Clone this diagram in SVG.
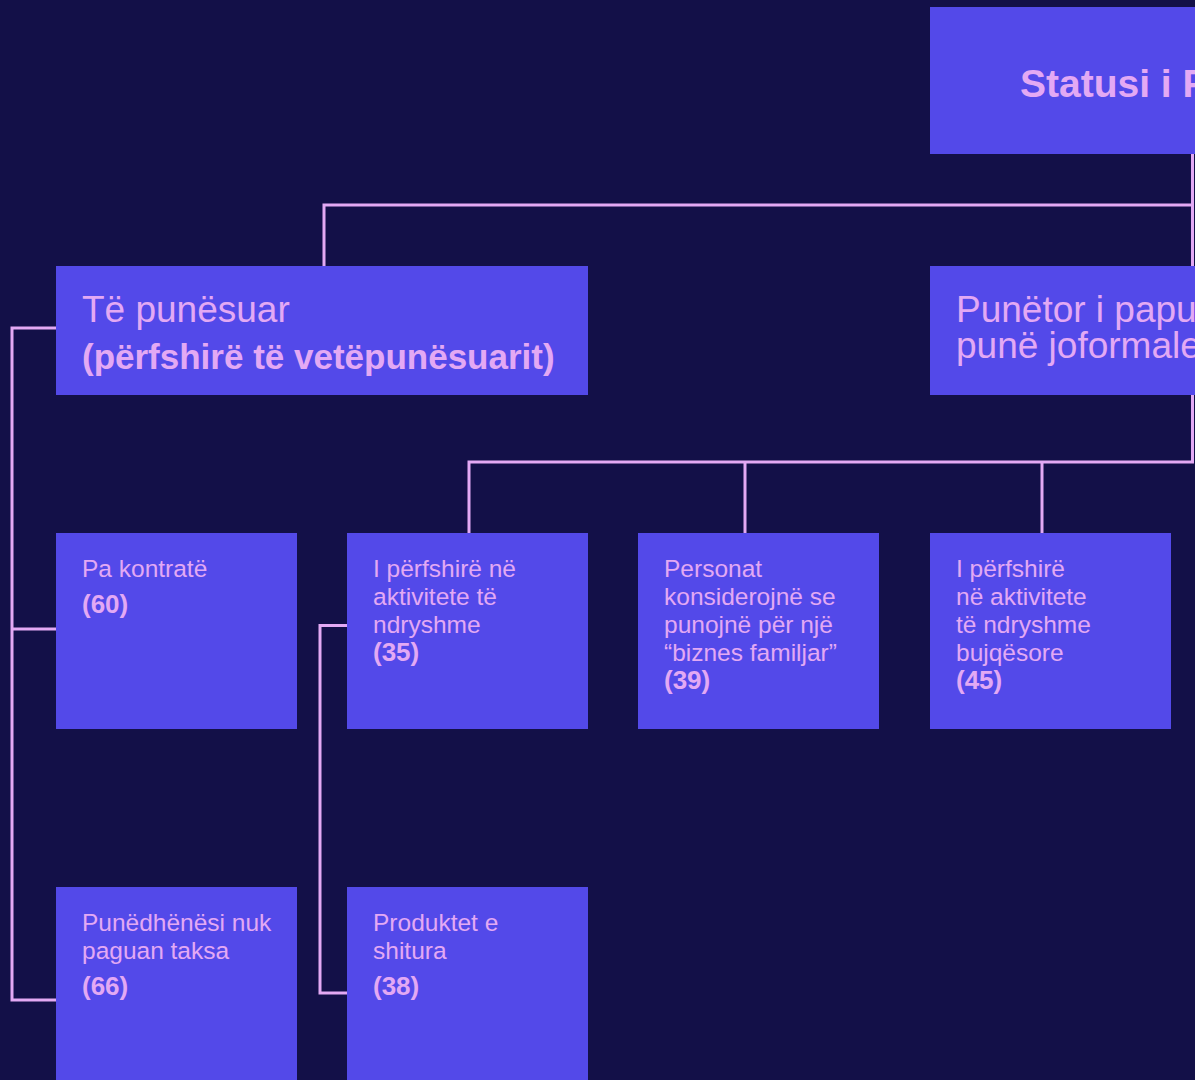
<svg xmlns="http://www.w3.org/2000/svg" width="1195" height="1080" viewBox="0 0 1195 1080">
  <style>
    .bg { fill: #131048; }
    .box { fill: #5349E9; }
    .t { font-family: "Liberation Sans", Arial, sans-serif; fill: #E3A9F4; }
    .big { font-size: 37px; }
    .bigb { font-size: 35px; font-weight: bold; }
    .small { font-size: 24.5px; }
    .num { font-size: 26px; font-weight: bold; }
    .conn { fill: none; stroke: #E3A9F4; stroke-width: 3; }
  </style>
  <rect class="bg" x="0" y="0" width="1195" height="1080"/>

  <g id="connectors">
    <path class="conn" d="M1192.5,153 V266"/>
    <path class="conn" d="M1194,205 H324 V266"/>
    <path class="conn" d="M1192.5,395 V462 H469 V533"/>
    <path class="conn" d="M745,462 V533"/>
    <path class="conn" d="M1042,462 V533"/>
    <path class="conn" d="M56,328 H12 V1000 H56"/>
    <path class="conn" d="M12,629 H56"/>
    <path class="conn" d="M347,625.5 H320 V993 H347"/>
  </g>

  <g id="node-root">
    <rect class="box" x="930" y="7" width="300" height="147"/>
    <text class="t" x="1020" y="97" font-size="39" font-weight="bold">Statusi i P</text>
  </g>

  <g id="node-punesuar">
    <rect class="box" x="56" y="266" width="532" height="129"/>
    <text class="t big" x="82" y="322">Të punësuar</text>
    <text class="t bigb" x="82" y="369">(përfshirë të vetëpunësuarit)</text>
  </g>

  <g id="node-papunesuar">
    <rect class="box" x="930" y="266" width="300" height="129"/>
    <text class="t big" x="956" y="322">Punëtor i papunësuar</text>
    <text class="t big" x="956" y="358">punë joformale</text>
  </g>

  <g id="node-pakontrate">
    <rect class="box" x="56" y="533" width="241" height="196"/>
    <text class="t small" x="82" y="577">Pa kontratë</text>
    <text class="t num" x="82" y="613">(60)</text>
  </g>

  <g id="node-aktivitete">
    <rect class="box" x="347" y="533" width="241" height="196"/>
    <text class="t small" x="373" y="577">I përfshirë në</text>
    <text class="t small" x="373" y="605">aktivitete të</text>
    <text class="t small" x="373" y="633">ndryshme</text>
    <text class="t num" x="373" y="661">(35)</text>
  </g>

  <g id="node-biznes">
    <rect class="box" x="638" y="533" width="241" height="196"/>
    <text class="t small" x="664" y="577">Personat</text>
    <text class="t small" x="664" y="605">konsiderojnë se</text>
    <text class="t small" x="664" y="633">punojnë për një</text>
    <text class="t small" x="664" y="661">“biznes familjar”</text>
    <text class="t num" x="664" y="689">(39)</text>
  </g>

  <g id="node-bujqesore">
    <rect class="box" x="930" y="533" width="241" height="196"/>
    <text class="t small" x="956" y="577">I përfshirë</text>
    <text class="t small" x="956" y="605">në aktivitete</text>
    <text class="t small" x="956" y="633">të ndryshme</text>
    <text class="t small" x="956" y="661">bujqësore</text>
    <text class="t num" x="956" y="689">(45)</text>
  </g>

  <g id="node-taksa">
    <rect class="box" x="56" y="887" width="241" height="200"/>
    <text class="t small" x="82" y="931">Punëdhënësi nuk</text>
    <text class="t small" x="82" y="959">paguan taksa</text>
    <text class="t num" x="82" y="995">(66)</text>
  </g>

  <g id="node-produktet">
    <rect class="box" x="347" y="887" width="241" height="200"/>
    <text class="t small" x="373" y="931">Produktet e</text>
    <text class="t small" x="373" y="959">shitura</text>
    <text class="t num" x="373" y="995">(38)</text>
  </g>
</svg>
